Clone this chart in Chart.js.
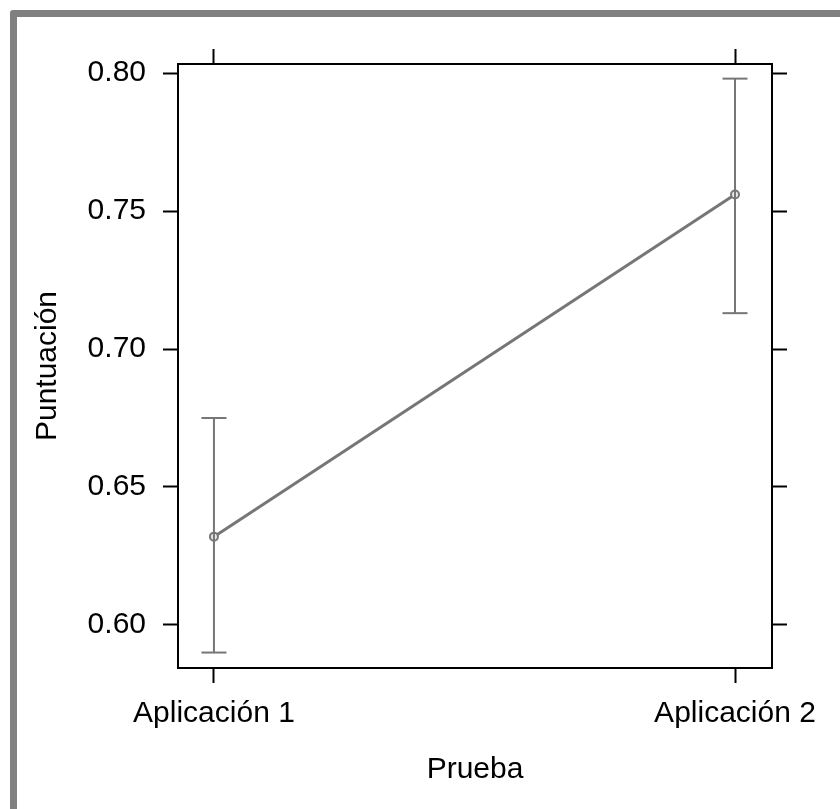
<!DOCTYPE html>
<html lang="es">
<head>
    <meta charset="UTF-8">
    <title>Puntuación por prueba</title>
    <style>
        html, body { margin: 0; padding: 0; background: #fff; overflow: hidden; }
        .frame {
            position: absolute; left: 10px; top: 10px;
            width: 900px; height: 900px;
            border: 7px solid #808080; border-radius: 3px;
        }
        .chart-box { position: absolute; left: 0; top: 0; width: 840px; height: 809px; }
    </style>
</head>
<body>
    <div class="frame"></div>
    <div class="chart-box">
        <canvas id="meanChart"></canvas>
    </div>

<script src="https://cdn.jsdelivr.net/npm/chart.js"></script>
<script>
// datos
const categorias = ['Aplicación 1', 'Aplicación 2'];
const posiciones = [1, 2];
const medias = [0.632, 0.756];
const limInferior = [0.590, 0.713];
const limSuperior = [0.675, 0.798];
const ticksY = [0.60, 0.65, 0.70, 0.75, 0.80];

const gris = '#767676';
const fuente = "'Liberation Sans', Arial, sans-serif";

const xMin = 0.931, xMax = 2.071;
const yMin = 0.5844, yMax = 0.8033;

// una serie por barra de error (linea vertical + remates)
const barrasError = posiciones.map((p, i) => ({
    data: [{x: p, y: limInferior[i]}, {x: p, y: limSuperior[i]}],
    showLine: true,
    borderColor: gris,
    borderWidth: 2,
    pointStyle: 'line',
    pointRadius: 12.5,
    pointBorderWidth: 2,
    pointBorderColor: gris,
    pointHoverRadius: 12.5
}));

function fijarTicks(valores) {
    return function(axis) { axis.ticks = valores.map(v => ({value: v})); };
}

const ctx = document.getElementById('meanChart').getContext('2d');
new Chart(ctx, {
    type: 'line',
    data: {
        datasets: [
            ...barrasError,
            {
                data: posiciones.map((p, i) => ({x: p, y: medias[i]})),
                borderColor: gris,
                borderWidth: 3,
                pointStyle: 'circle',
                pointRadius: 4,
                pointBorderWidth: 2,
                pointBorderColor: gris,
                pointBackgroundColor: '#e8e8e8'
            }
        ]
    },
    options: {
        responsive: true,
        maintainAspectRatio: false,
        animation: false,
        layout: { padding: 0 },
        plugins: { legend: { display: false }, tooltip: { enabled: false } },
        scales: {
            x: {
                type: 'linear', position: 'bottom', min: xMin, max: xMax,
                afterBuildTicks: fijarTicks(posiciones),
                afterFit: s => { s.height = 141; },
                border: { display: true, color: '#000', width: 2 },
                grid: { drawOnChartArea: false, drawTicks: true, tickLength: 15, tickColor: '#000', tickWidth: 2 },
                ticks: {
                    padding: 13, color: '#000', maxRotation: 0, autoSkip: false,
                    font: { family: fuente, size: 30 },
                    callback: v => categorias[posiciones.indexOf(v)]
                },
                title: {
                    display: true, text: 'Prueba', color: '#000',
                    font: { family: fuente, size: 30 },
                    padding: { top: 0, bottom: 21 }
                }
            },
            x2: {
                type: 'linear', position: 'top', min: xMin, max: xMax,
                afterBuildTicks: fijarTicks(posiciones),
                afterFit: s => { s.height = 64; },
                border: { display: true, color: '#000', width: 2 },
                grid: { drawOnChartArea: false, drawTicks: true, tickLength: 15, tickColor: '#000', tickWidth: 2 },
                ticks: { display: false }
            },
            y: {
                type: 'linear', position: 'left', min: yMin, max: yMax,
                afterBuildTicks: fijarTicks(ticksY),
                afterFit: s => { s.width = 178; },
                border: { display: true, color: '#000', width: 2 },
                grid: { drawOnChartArea: false, drawTicks: true, tickLength: 15, tickColor: '#000', tickWidth: 2 },
                ticks: {
                    padding: 17, color: '#000',
                    font: { family: fuente, size: 30 },
                    callback: v => v.toFixed(2)
                },
                title: {
                    display: true, text: 'Puntuación', color: '#000',
                    font: { family: fuente, size: 30 },
                    padding: { top: 30, bottom: 0 }
                }
            },
            y2: {
                type: 'linear', position: 'right', min: yMin, max: yMax,
                afterBuildTicks: fijarTicks(ticksY),
                afterFit: s => { s.width = 68; },
                border: { display: true, color: '#000', width: 2 },
                grid: { drawOnChartArea: false, drawTicks: true, tickLength: 15, tickColor: '#000', tickWidth: 2 },
                ticks: { display: false }
            }
        }
    }
});
</script>
</body>
</html>
